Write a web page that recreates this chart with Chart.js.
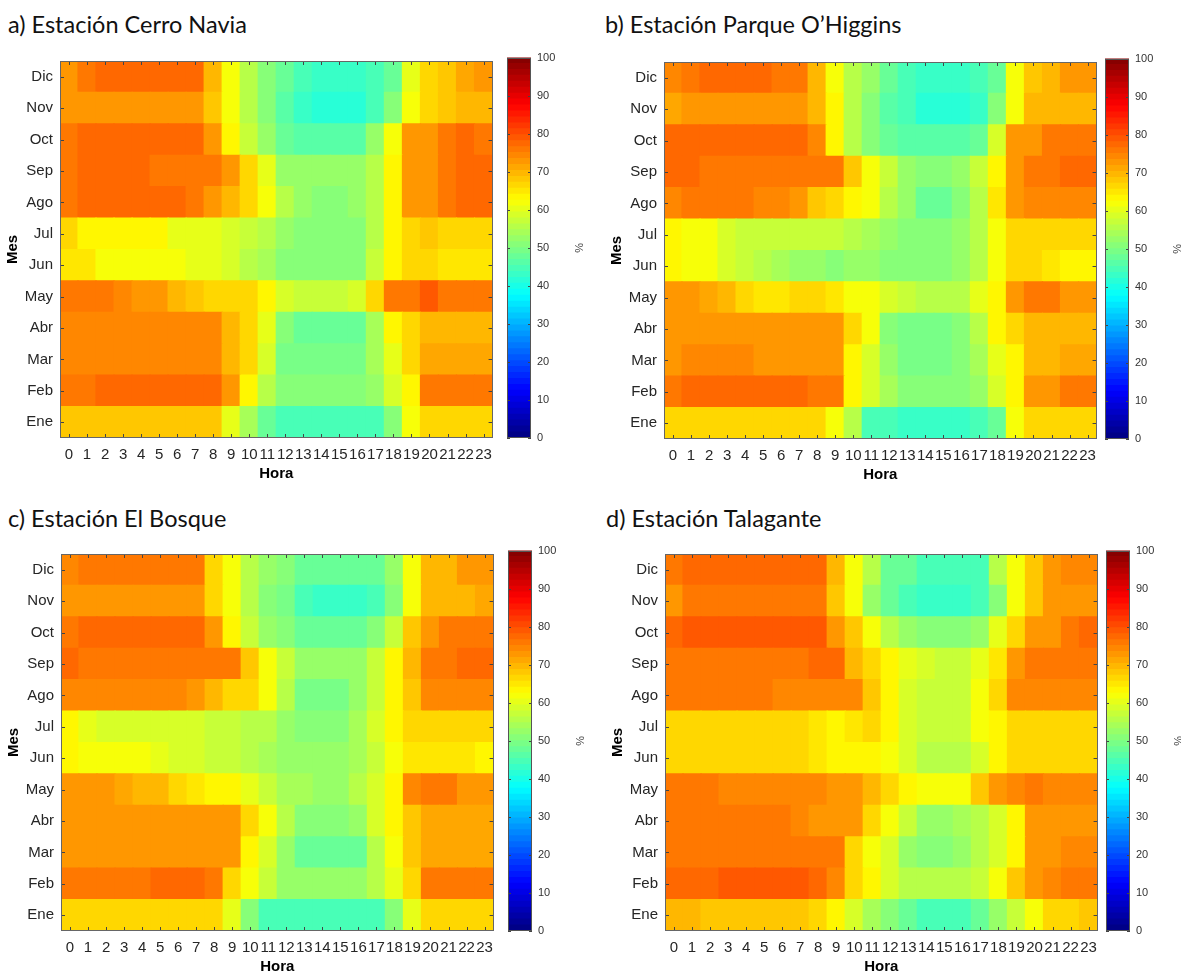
<!DOCTYPE html>
<html>
<head>
<meta charset="utf-8">
<script src="https://cdn.jsdelivr.net/npm/chart.js@4.4.1/dist/chart.umd.min.js"></script>
<style>
  html, body { margin: 0; padding: 0; background: #ffffff; }
  body { width: 1181px; height: 974px; position: relative; overflow: hidden; }
  .ttl { position: absolute; font-family: Lato, "Open Sans", sans-serif; font-size: 23.5px; line-height: 24px; color: #111; white-space: nowrap; }
  canvas { position: absolute; }
</style>
</head>
<body>
<div class="ttl" style="left:8px; top:12px;">a) Estación Cerro Navia</div>
<div class="ttl" style="left:605px; top:12px;">b) Estación Parque O’Higgins</div>
<div class="ttl" style="left:8px; top:506px;">c) Estación El Bosque</div>
<div class="ttl" style="left:606px; top:506px;">d) Estación Talagante</div>

<canvas id="hmA" width="500" height="445" style="left:0px; top:45px;"></canvas>
<canvas id="cbA" width="95" height="445" style="left:500px; top:45px;"></canvas>
<canvas id="hmB" width="500" height="445" style="left:604px; top:46px;"></canvas>
<canvas id="cbB" width="95" height="445" style="left:1098px; top:46px;"></canvas>
<canvas id="hmC" width="500" height="445" style="left:1px; top:538px;"></canvas>
<canvas id="cbC" width="95" height="445" style="left:501px; top:538px;"></canvas>
<canvas id="hmD" width="500" height="445" style="left:605px; top:538px;"></canvas>
<canvas id="cbD" width="95" height="445" style="left:1099px; top:538px;"></canvas>

<script>
// ---------------- DATA ----------------
const hours = ['0','1','2','3','4','5','6','7','8','9','10','11','12','13','14','15','16','17','18','19','20','21','22','23'];
const months = ['Ene','Feb','Mar','Abr','May','Jun','Jul','Ago','Sep','Oct','Nov','Dic'];
const cbarTicks = [0,10,20,30,40,50,60,70,80,90,100];

// Rows: Ene .. Dic ; columns: hour 0 .. 23 ; values in %
const cerroNavia = [
  [68,68,68,68,68,68,68,68,68,60,54,47,44,44,44,44,44,44,50,62,66,66,67,67],
  [75,75,78,78,78,78,78,78,78,72,64,56,50,50,50,50,50,52,58,64,76,76,76,76],
  [74,74,74,74,74,74,74,74,74,70,66,58,49,49,49,49,49,54,60,66,71,71,71,71],
  [74,74,74,74,74,74,74,74,74,70,66,60,50,48,48,48,48,54,63,66,70,70,70,70],
  [76,76,75,74,73,72,70,68,67,66,66,64,58,57,57,57,58,66,75,76,79,76,75,75],
  [65,65,62,62,62,62,62,60,60,58,56,54,51,51,51,51,51,57,63,67,67,65,65,65],
  [66,63,63,63,63,63,60,60,60,58,57,55,52,51,51,51,51,56,64,67,68,67,66,67],
  [76,77,77,77,77,77,77,76,72,70,67,62,55,52,51,51,52,56,63,72,73,76,77,77],
  [76,77,77,77,77,76,76,76,75,72,66,60,53,52,52,52,52,56,64,72,73,76,77,77],
  [76,77,78,78,78,78,78,78,72,64,57,52,47,46,46,46,46,52,62,72,73,76,77,76],
  [72,72,72,72,72,72,72,72,68,62,56,50,46,43,42,42,42,44,50,62,66,68,70,70],
  [73,75,77,77,77,77,77,77,70,62,56,50,47,45,43,43,43,44,48,60,67,68,71,72]
];
const parqueOHiggins = [
  [67,67,67,67,67,67,67,67,67,62,55,45,44,43,43,43,43,44,47,62,66,66,66,66],
  [76,77,77,77,77,77,77,77,76,76,63,58,54,51,51,51,51,52,58,63,73,73,76,76],
  [73,74,74,74,74,73,73,73,73,73,63,58,53,49,49,49,50,54,60,64,70,70,71,71],
  [73,73,73,73,73,73,73,73,72,72,67,62,51,49,49,49,50,55,63,67,70,70,70,70],
  [72,72,71,69,67,65,65,66,67,65,62,61,58,57,55,55,56,60,64,73,76,76,73,73],
  [63,62,61,58,57,56,54,53,52,51,52,52,51,51,51,51,53,56,62,66,66,65,64,64],
  [63,62,61,58,57,57,57,57,57,57,56,54,52,51,50,50,52,56,62,67,66,67,66,66],
  [74,75,75,75,75,74,74,73,68,67,63,62,56,52,48,48,51,56,65,72,74,74,74,74],
  [77,77,76,76,76,76,76,76,75,75,68,62,57,52,51,51,52,57,63,73,75,75,78,77],
  [77,77,78,78,78,77,77,77,74,64,56,50,47,46,46,46,46,48,58,72,72,76,76,76],
  [71,72,72,72,72,72,72,72,69,64,56,50,46,44,42,42,42,43,50,62,69,70,70,70],
  [74,75,77,77,77,77,76,76,69,62,56,52,47,45,43,43,43,44,47,62,68,70,73,73]
];
const elBosque = [
  [66,66,66,66,66,66,66,66,66,60,50,45,45,44,44,44,44,45,50,60,66,66,66,66],
  [75,76,76,76,76,77,78,77,76,66,62,57,53,52,52,52,52,55,60,66,75,75,75,75],
  [73,73,73,73,73,73,73,73,73,73,63,58,53,48,48,48,48,56,62,68,71,71,71,71],
  [73,73,73,73,73,73,73,73,73,73,67,61,56,50,50,50,53,58,64,68,71,71,71,71],
  [72,72,72,71,70,69,66,65,64,63,60,57,54,54,52,52,55,58,64,74,76,76,72,72],
  [63,62,61,61,61,60,59,58,57,57,56,54,53,52,52,52,54,57,62,65,65,65,65,64],
  [63,60,59,59,59,59,59,58,57,57,56,55,53,51,51,51,54,58,63,66,66,66,66,66],
  [74,74,74,74,74,74,74,73,70,67,67,61,55,49,49,49,52,57,63,68,74,74,74,74],
  [77,75,75,75,75,75,75,75,75,75,68,62,57,53,52,52,52,57,63,70,75,75,77,77],
  [76,78,78,78,78,78,78,78,72,63,57,52,50,47,47,47,47,50,57,68,73,76,76,76],
  [72,73,72,72,72,72,72,72,66,61,56,51,49,45,43,43,43,45,50,62,70,70,70,71],
  [74,76,76,76,76,76,75,75,67,61,56,52,51,47,47,47,47,48,52,61,69,69,72,73]
];
const talagante = [
  [69,69,68,68,68,68,68,68,67,64,58,54,50,47,45,45,45,47,52,57,62,67,67,68],
  [77,77,77,79,79,79,79,79,78,74,67,63,58,56,55,55,55,57,62,68,73,74,75,75],
  [76,76,76,76,76,76,76,76,76,76,67,62,58,53,50,50,52,55,58,63,72,73,74,74],
  [75,75,75,75,75,75,75,74,73,73,73,67,62,57,53,53,54,55,58,63,72,73,73,73],
  [75,75,75,74,74,74,74,74,74,73,72,70,66,63,62,62,62,68,73,74,75,74,74,74],
  [66,66,66,66,66,66,66,66,65,63,63,63,62,58,56,56,56,59,64,67,67,67,67,67],
  [67,67,67,67,67,67,67,66,65,64,65,66,63,59,57,57,57,61,64,66,67,67,67,67],
  [75,75,75,75,75,75,74,74,74,74,74,68,63,58,57,57,57,62,67,74,74,74,74,74],
  [76,76,76,76,76,76,76,76,78,78,70,67,63,60,58,57,57,60,65,73,75,75,75,75],
  [78,79,79,79,79,79,79,79,79,73,68,62,56,52,51,50,50,52,60,66,72,73,76,77],
  [73,75,75,75,75,75,75,75,75,68,62,52,47,44,43,43,43,44,50,62,68,72,72,72],
  [76,77,77,77,77,77,77,77,77,70,62,55,48,48,44,44,44,44,55,62,68,72,74,74]
];

// ---------------- HELPERS ----------------
const AXIS_FONT = '"Liberation Sans", Arial, Helvetica, sans-serif';
const NLEV = 64;
function jet(v) {
  const k = Math.min(NLEV - 1, Math.max(0, Math.floor(v / 100 * NLEV)));
  const t = (k + 0.5) / NLEV;
  const c = x => Math.round(255 * Math.min(1, Math.max(0, x)));
  return 'rgb(' + c(1.5 - Math.abs(4 * t - 3)) + ',' + c(1.5 - Math.abs(4 * t - 2)) + ',' + c(1.5 - Math.abs(4 * t - 1)) + ')';
}

const frameTicks = {
  id: 'frameTicks',
  afterDatasetsDraw(chart, args, opts) {
    const { ctx, chartArea: a, scales } = chart;
    ctx.save();
    ctx.lineWidth = 1;
    ctx.strokeStyle = opts.tickColor || '#333';
    const L = opts.len || 4;
    const seg = (x1, y1, x2, y2) => { ctx.beginPath(); ctx.moveTo(x1, y1); ctx.lineTo(x2, y2); ctx.stroke(); };
    if (opts.xTicks) {
      const xs = scales.x;
      xs.ticks.forEach((t, i) => {
        const px = Math.round(xs.getPixelForTick(i)) + 0.5;
        seg(px, a.bottom, px, a.bottom - L);
        seg(px, a.top, px, a.top + L);
      });
    }
    if (opts.yTicks) {
      const ys = scales.y;
      ys.ticks.forEach((t, i) => {
        const py = Math.round(ys.getPixelForTick(i)) + 0.5;
        seg(a.left, py, a.left + L, py);
        seg(a.right, py, a.right - L, py);
      });
    }
    ctx.strokeStyle = opts.frameColor || '#555';
    ctx.strokeRect(Math.round(a.left) + 0.5, Math.round(a.top) + 0.5, Math.round(a.width) - 1, Math.round(a.height) - 1);
    ctx.restore();
  }
};

function heatmap(id, vals) {
  const datasets = months.map((m, i) => ({
    label: m,
    data: hours.map(() => [i - 0.5, i + 0.5]),
    backgroundColor: vals[i].map(jet),
    borderWidth: 0,
    inflateAmount: 0.6,
    grouped: false,
    barPercentage: 1,
    categoryPercentage: 1
  }));
  new Chart(document.getElementById(id), {
    type: 'bar',
    data: { labels: hours, datasets },
    options: {
      responsive: false,
      animation: false,
      events: [],
      layout: { padding: { top: 10, right: 5, left: 0, bottom: 0 } },
      plugins: {
        legend: { display: false },
        tooltip: { enabled: false },
        frameTicks: { xTicks: true, yTicks: true, len: 4, tickColor: '#444', frameColor: '#666' }
      },
      scales: {
        x: {
          type: 'category',
          offset: true,
          grid: { display: false, drawTicks: false },
          border: { display: false },
          ticks: { color: '#262626', font: { family: AXIS_FONT, size: 15 }, padding: 8, autoSkip: false, maxRotation: 0, minRotation: 0 },
          title: { display: true, text: 'Hora', color: '#000', font: { family: AXIS_FONT, size: 15, weight: 'bold' }, padding: { top: 0, bottom: 7 } },
          afterFit(s) { s.height = 52; }
        },
        y: {
          type: 'linear',
          min: -0.5,
          max: 11.5,
          grid: { display: false, drawTicks: false },
          border: { display: false },
          afterBuildTicks(s) { s.ticks = months.map((m, i) => ({ value: i })); },
          ticks: { color: '#262626', font: { family: AXIS_FONT, size: 15 }, padding: 7, callback: v => months[v] },
          title: { display: true, text: 'Mes', color: '#000', font: { family: AXIS_FONT, size: 15, weight: 'bold' }, padding: { top: 4, bottom: 0 } },
          afterFit(s) { s.width = 60; }
        }
      }
    },
    plugins: [frameTicks]
  });
}

function colorbar(id) {
  const datasets = [];
  for (let k = 0; k < NLEV; k++) {
    const lo = k * 100 / NLEV, hi = (k + 1) * 100 / NLEV;
    datasets.push({
      data: [[lo, hi]],
      backgroundColor: jet((lo + hi) / 2),
      borderWidth: 0,
      inflateAmount: 0.6,
      grouped: false,
      barPercentage: 1,
      categoryPercentage: 1
    });
  }
  new Chart(document.getElementById(id), {
    type: 'bar',
    data: { labels: [''], datasets },
    options: {
      responsive: false,
      animation: false,
      events: [],
      layout: { padding: { top: 10, right: 0, left: 7, bottom: 52 } },
      plugins: {
        legend: { display: false },
        tooltip: { enabled: false },
        frameTicks: { xTicks: false, yTicks: true, len: 3, tickColor: '#444', frameColor: '#555' }
      },
      scales: {
        x: { type: 'category', display: false, offset: true },
        y: {
          type: 'linear',
          position: 'right',
          min: 0,
          max: 100,
          grid: { display: false, drawTicks: false },
          border: { display: false },
          afterBuildTicks(s) { s.ticks = cbarTicks.map(v => ({ value: v })); },
          ticks: { color: '#333', font: { family: AXIS_FONT, size: 11 }, padding: 6 },
          title: { display: true, text: '%', color: '#444', font: { family: AXIS_FONT, size: 11 }, padding: { top: 10, bottom: 0 } },
          afterFit(s) { s.width = 64; }
        }
      }
    },
    plugins: [frameTicks]
  });
}

heatmap('hmA', cerroNavia);
heatmap('hmB', parqueOHiggins);
heatmap('hmC', elBosque);
heatmap('hmD', talagante);
colorbar('cbA');
colorbar('cbB');
colorbar('cbC');
colorbar('cbD');
</script>
</body>
</html>
